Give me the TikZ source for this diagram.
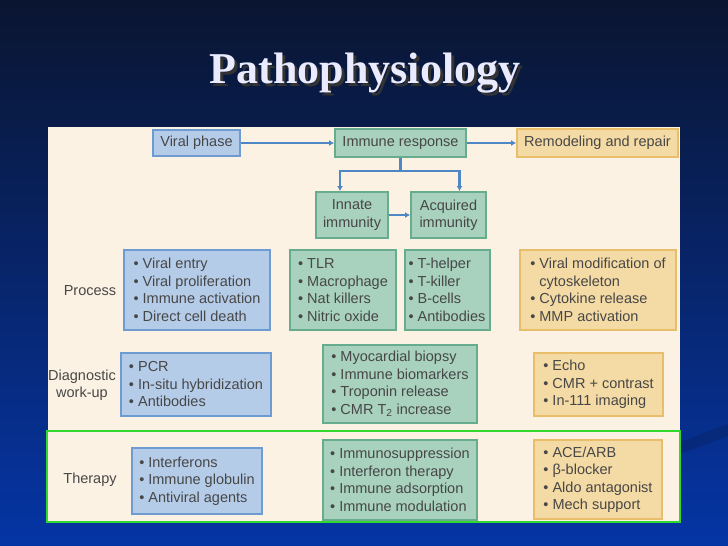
\documentclass[tikz,border=0pt]{standalone}
\usepackage{fontspec}
\setmainfont{Liberation Serif}
\setsansfont{Liberation Sans}
\usetikzlibrary{arrows.meta}

\definecolor{navytop}{HTML}{0A1530}
\definecolor{navymid}{HTML}{0C2D85}
\definecolor{navybot}{HTML}{0535A5}
\definecolor{panelcream}{HTML}{FCF2E3}
\definecolor{bluefill}{HTML}{B5CCE9}
\definecolor{blueline}{HTML}{6E9BD2}
\definecolor{greenfill}{HTML}{A8D1BE}
\definecolor{greenline}{HTML}{67AC8C}
\definecolor{orangefill}{HTML}{F4DAA4}
\definecolor{orangeline}{HTML}{E8BE6A}
\definecolor{arrowblue}{HTML}{4F86C6}
\definecolor{therapyframe}{HTML}{30D830}
\definecolor{textgray}{HTML}{474747}

\newcommand{\itm}{\textbullet\ }
\newcommand{\hang}{\phantom{\textbullet\ }}
\newcommand{\shadowed}[1]{\rlap{\hspace{3pt}\raisebox{-3pt}{\color{black!80}#1}}#1}

\begin{document}
\begin{tikzpicture}[x=1pt, y=-1pt,
    box/.style={draw, line width=2pt, inner sep=3pt, align=left, text=textgray,
        font=\sffamily\fontsize{14.5}{17.5}\selectfont},
    bluebox/.style={box, fill=bluefill, draw=blueline},
    greenbox/.style={box, fill=greenfill, draw=greenline},
    orangebox/.style={box, fill=orangefill, draw=orangeline},
    lbl/.style={align=center, text=textgray, font=\sffamily\fontsize{14.5}{17.5}\selectfont},
    title/.style={anchor=base, font=\bfseries\fontsize{44}{44}\selectfont},
    flow/.style={draw=arrowblue, line width=2.5pt, -{Latex[length=5pt,width=6pt]}},
    trunk/.style={draw=arrowblue, line width=2.5pt}]

    % Slide background
    \useasboundingbox (0,0) rectangle (728,546);
    \shade[top color=navytop, middle color=navymid, bottom color=navybot] (0,0) rectangle (728,546);
    \fill[navytop, opacity=0.2] (680,442) -- (728,424) -- (728,436) -- (680,454) -- cycle;

    % Title
    \node[title, text=white!92!blue] (title) at (365,83) {\shadowed{Pathophysiology}};

    % Figure panel
    \fill[panelcream] (48,127) rectangle (680,522);

    % Top row
    \node[bluebox, minimum width=87pt, minimum height=26pt] (viral) at (196.5,143) {Viral phase};
    \node[greenbox, minimum width=131pt, minimum height=28pt] (immune) at (400.5,143) {Immune response};
    \node[orangebox, minimum width=161pt, minimum height=28pt] (remod) at (597.5,143) {Remodeling and repair};

    % Immunity branch
    \node[greenbox, align=center, minimum width=72pt, minimum height=46pt] (innate) at (352,215) {Innate\\immunity};
    \node[greenbox, align=center, minimum width=75pt, minimum height=46pt] (acquired) at (448.5,215) {Acquired\\immunity};

    \draw[flow] (viral) -- (immune);
    \draw[flow] (immune) -- (remod);
    \draw[trunk] (immune.south) -- ++(0,13) coordinate (split);
    \draw[flow] (split) -| ([xshift=-12pt]innate.north);
    \draw[flow] (split) -| ([xshift=11pt]acquired.north);
    \draw[flow] (innate) -- (acquired);

    % Process row
    \node[lbl] (process) at (90,291) {Process};
    \node[bluebox, minimum width=146pt, minimum height=80pt] (procviral) at (197,290)
        {\itm Viral entry\\\itm Viral proliferation\\\itm Immune activation\\\itm Direct cell death};
    \node[greenbox, minimum width=106pt, minimum height=80pt] (procinnate) at (343,290)
        {\itm TLR\\\itm Macrophage\\\itm Nat killers\\\itm Nitric oxide};
    \node[greenbox, minimum width=85pt, minimum height=80pt] (procacquired) at (447,290)
        {\itm T-helper\\\itm T-killer\\\itm B-cells\\\itm Antibodies};
    \node[orangebox, minimum width=156pt, minimum height=80pt] (procremod) at (598,290)
        {\itm Viral modification of\\\hang cytoskeleton\\\itm Cytokine release\\\itm MMP activation};

    % Diagnostic row
    \node[lbl] (diagnostic) at (82,385) {Diagnostic\\work-up};
    \node[bluebox, minimum width=150pt, minimum height=63pt] (diagviral) at (196,384.5)
        {\itm PCR\\\itm In-situ hybridization\\\itm Antibodies};
    \node[greenbox, minimum width=154pt, minimum height=78pt] (diagimmune) at (400,384)
        {\itm Myocardial biopsy\\\itm Immune biomarkers\\\itm Troponin release\\\itm CMR T\textsubscript{2} increase};
    \node[orangebox, minimum width=129pt, minimum height=63pt] (diagremod) at (598.5,384.5)
        {\itm Echo\\\itm CMR + contrast\\\itm In-111 imaging};

    % Therapy row
    \draw[therapyframe, line width=2pt] (47,431) rectangle (680,522);
    \node[lbl] (therapy) at (90,480) {Therapy};
    \node[bluebox, minimum width=130pt, minimum height=66pt] (therviral) at (197,481)
        {\itm Interferons\\\itm Immune globulin\\\itm Antiviral agents};
    \node[greenbox, minimum width=154pt, minimum height=80pt] (therimmune) at (400,480)
        {\itm Immunosuppression\\\itm Interferon therapy\\\itm Immune adsorption\\\itm Immune modulation};
    \node[orangebox, minimum width=128pt, minimum height=79pt] (therremod) at (598,479.5)
        {\itm ACE/ARB\\\itm β-blocker\\\itm Aldo antagonist\\\itm Mech support};
\end{tikzpicture}
\end{document}
